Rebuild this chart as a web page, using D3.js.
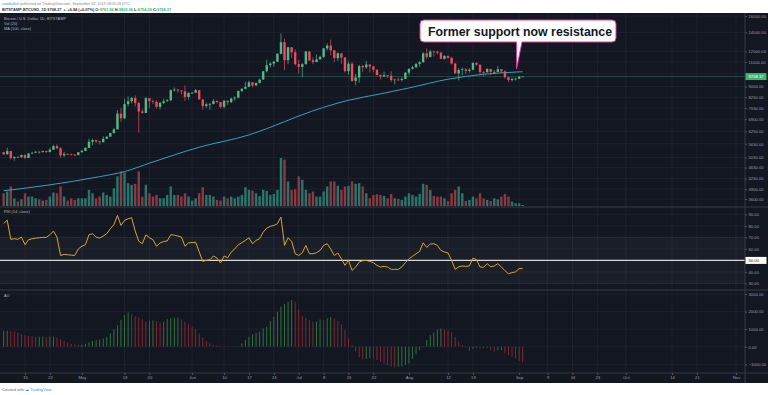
<!DOCTYPE html>
<html>
<head>
<meta charset="utf-8">
<script src="https://cdn.jsdelivr.net/npm/d3@7"></script>
<style>
  body { margin: 0; background: #ffffff; }
  svg { display: block; font-family: "Liberation Sans", Arial, sans-serif; }
</style>
</head>
<body>
<svg id="chart" width="768" height="395"></svg>
<script>
// daily candles, BITSTAMP BTCUSD, first candle 9 Apr 2019
const firstDay = "2019-04-09";

const opens = [
  5270, 5185, 5320, 5025, 5070, 5065, 5150, 5030, 5220, 5250,
  5290, 5275, 5320, 5280, 5380, 5540, 5440, 5140, 5200, 5185,
  5170, 5150, 5270, 5330, 5460, 5740, 5820, 5760, 5720, 5880,
  5980, 6160, 6350, 7220, 6950, 7800, 7990, 8200, 7880, 7350,
  7260, 8190, 7990, 7950, 7630, 7880, 7990, 8050, 8740, 8780,
  8720, 8660, 8270, 8550, 8560, 8740, 8110, 7680, 7790, 7810,
  8000, 7930, 7630, 8020, 7920, 8170, 8230, 8690, 8840, 8980,
  9320, 9080, 9270, 9530, 10200, 10720, 10860, 11020, 11760, 12930,
  11160, 12400, 11900, 10800, 10570, 10800, 11980, 11150, 10990, 11240,
  11470, 12290, 12570, 12100, 11350, 11800, 11400, 10200, 10850, 9430,
  9690, 10640, 10530, 10770, 10600, 10330, 9880, 9770, 9880, 9840,
  9490, 9530, 9500, 9580, 10080, 10400, 10530, 10820, 10970, 11800,
  11460, 11980, 11970, 11860, 11290, 11560, 11380, 10860, 10020, 10310,
  10360, 10220, 10320, 10920, 10760, 10130, 10120, 10400, 10140, 10140,
  10370, 10190, 9710, 9490, 9580, 9600, 9761.56
];
const highs = [
  5290, 5470, 5330, 5100, 5120, 5170, 5190, 5230, 5290, 5330,
  5330, 5340, 5330, 5470, 5600, 5620, 5500, 5290, 5220, 5210,
  5200, 5280, 5360, 5490, 5880, 5880, 5840, 5790, 6000, 6020,
  6180, 6430, 7440, 7560, 8150, 8300, 8280, 8380, 7950, 7480,
  8260, 8190, 8100, 8040, 7950, 8150, 8130, 8800, 8940, 8800,
  8720, 9080, 8580, 8620, 8820, 8740, 8110, 7900, 7880, 8130,
  8050, 7950, 8070, 8020, 8230, 8300, 8700, 8880, 9360, 9440,
  9330, 9300, 9590, 10220, 11200, 11000, 11100, 11800, 13880, 13300,
  12440, 12400, 12200, 11200, 10900, 12000, 12000, 11430, 11700, 11580,
  12330, 12800, 13200, 12100, 11900, 11800, 11450, 11050, 11000, 9970,
  10750, 10750, 11100, 10800, 10650, 10330, 9920, 10180, 9880, 10200,
  9600, 9700, 9720, 10120, 10450, 10650, 10920, 11080, 11900, 12300,
  12150, 12050, 12050, 11960, 11600, 11580, 11460, 10930, 10450, 10530,
  10480, 10470, 10950, 10950, 10760, 10230, 10430, 10400, 10300, 10650,
  10390, 10290, 9720, 9680, 9680, 9800, 9805.06
];
const lows = [
  5155, 5170, 4970, 4920, 5040, 5040, 4990, 5020, 5200, 5250,
  5200, 5260, 5230, 5260, 5370, 5400, 5040, 5070, 5150, 5130,
  5100, 5140, 5260, 5320, 5450, 5580, 5680, 5610, 5720, 5860,
  5970, 6140, 6350, 6750, 6900, 7650, 7850, 7650, 6180, 7220,
  7250, 7560, 7800, 7520, 7470, 7800, 7950, 7980, 8640, 8560,
  8440, 8000, 8100, 8480, 8540, 8100, 7460, 7570, 7460, 7780,
  7850, 7530, 7530, 7740, 7880, 8030, 8170, 8610, 8800, 8970,
  8950, 9060, 9230, 9530, 10100, 10500, 10600, 11010, 11700, 10300,
  10800, 11350, 10700, 10000, 9700, 10800, 11100, 10800, 10990, 11200,
  11360, 12100, 11600, 11000, 11100, 10850, 10100, 9900, 9350, 9100,
  9300, 10150, 10400, 10100, 10100, 9850, 9540, 9750, 9650, 9330,
  9150, 9420, 9380, 9580, 9870, 10350, 10500, 10570, 10970, 11250,
  11400, 11500, 11670, 11250, 11200, 11310, 10760, 10000, 9460, 9860,
  9990, 10080, 10270, 10650, 9860, 9780, 10070, 9900, 9950, 10140,
  10060, 9600, 9330, 9370, 9450, 9560, 9754.09
];
const closes = [
  5185, 5320, 5025, 5070, 5065, 5150, 5030, 5220, 5250, 5290,
  5275, 5320, 5280, 5380, 5540, 5440, 5140, 5200, 5185, 5170,
  5150, 5270, 5330, 5460, 5740, 5820, 5760, 5720, 5880, 5980,
  6160, 6350, 7220, 6950, 7800, 7990, 8200, 7880, 7350, 7260,
  8190, 7990, 7950, 7630, 7880, 7990, 8050, 8740, 8780, 8720,
  8660, 8270, 8550, 8560, 8740, 8110, 7680, 7790, 7810, 8000,
  7930, 7630, 8020, 7920, 8170, 8230, 8690, 8840, 8980, 9320,
  9080, 9270, 9530, 10200, 10720, 10860, 11020, 11760, 12930, 11160,
  12400, 11900, 10800, 10570, 10800, 11980, 11150, 10990, 11240, 11470,
  12290, 12570, 12100, 11350, 11800, 11400, 10200, 10850, 9430, 9690,
  10640, 10530, 10770, 10600, 10330, 9880, 9770, 9880, 9840, 9490,
  9530, 9500, 9580, 10080, 10400, 10530, 10820, 10970, 11800, 11460,
  11980, 11970, 11860, 11290, 11560, 11380, 10860, 10020, 10310, 10360,
  10220, 10320, 10920, 10760, 10130, 10120, 10400, 10140, 10140, 10370,
  10190, 9710, 9490, 9580, 9600, 9761.56, 9768.37
];
const volumes = [
  10100, 11500, 15500, 6100, 3500, 5300, 10100, 7500, 7500, 6100,
  5300, 4300, 4800, 7500, 10700, 10100, 15500, 7500, 4300, 6100,
  4800, 6100, 6100, 6100, 12800, 10100, 6100, 7500, 10700, 8800,
  7500, 14100, 23500, 27500, 26700, 18100, 16800, 17600, 27500, 7500,
  16800, 10100, 7500, 8800, 6100, 6100, 8800, 15500, 8800, 8800,
  7500, 10100, 7500, 4300, 6100, 10100, 14900, 8800, 8800, 7500,
  4800, 4300, 7500, 6100, 7500, 6100, 7500, 8800, 14900, 12800,
  12300, 10100, 7900, 12800, 12000, 8800, 9600, 12800, 38100, 36800,
  19500, 12800, 13300, 23500, 20800, 12800, 10100, 11500, 7500, 7500,
  11500, 15500, 19500, 19500, 16000, 12800, 15500, 16000, 19500, 17600,
  18100, 15500, 10100, 6100, 8800, 9300, 8800, 8000, 6100, 9600,
  6100, 5600, 4800, 7500, 10100, 8800, 7500, 9600, 17600, 16800,
  12800, 8000, 7500, 7500, 6100, 4000, 10100, 12800, 15500, 10100,
  4000, 4800, 7500, 6100, 10100, 6100, 4800, 4000, 6100, 5300,
  7500, 9600, 7500, 3500, 2100, 2100, 800
];
const rsiValues = [
  82, 85, 68.3, 68.9, 68.3, 70.3, 63.6, 68, 68.8, 69.4,
  69.7, 70, 70, 72.3, 75.5, 70.3, 54.3, 55.2, 54.9, 54.6,
  54.3, 60, 62.3, 63.6, 72.3, 73.2, 70.3, 69.4, 71.2, 73.2,
  77.5, 81, 89.1, 80.4, 84.8, 86.2, 87.1, 75.5, 66.7, 64.5,
  72.3, 69.7, 68, 62.3, 65.2, 66.4, 66.9, 72.3, 72, 71.2,
  70.3, 62.3, 65.2, 65.5, 65.8, 57.5, 49.1, 50, 50.6, 53.8,
  52, 47.7, 53.8, 52.3, 57.2, 60, 63.6, 65.4, 67.4, 69.7,
  64.5, 67.4, 68.8, 74.6, 78.1, 79.6, 80.4, 81.9, 87.7, 63,
  69.7, 66.5, 55.8, 54.3, 56.7, 63, 55.8, 55.8, 56.7, 58.7,
  63, 64.5, 60, 54.3, 56.4, 51.4, 45.7, 50, 41.3, 44.2,
  48.6, 49.7, 50, 49.1, 48, 45.7, 44.2, 44.8, 44.2, 42.2,
  42.2, 42.2, 44.3, 48, 51.4, 53.5, 55.8, 57.8, 65.3, 61.3,
  64.2, 64.5, 63, 58.7, 57.3, 56.4, 50, 42.2, 44.5, 45.1,
  44.8, 45.1, 52, 50.6, 44.3, 44, 47.2, 44.5, 45.1, 47.2,
  44.3, 41.1, 38.3, 39.4, 40, 42.9, 42.9
];
const aoValues = [
  909, 909, 890, 870, 795, 700, 663, 625, 580, 560,
  570, 575, 560, 570, 575, 511, 435, 322, 246, 170,
  132, 114, 125, 170, 246, 322, 379, 417, 473, 568,
  758, 985, 1231, 1515, 1800, 1951, 1837, 1742, 1667, 1553,
  1420, 1477, 1496, 1458, 1383, 1420, 1572, 1610, 1648, 1660,
  1553, 1420, 1288, 1136, 1004, 758, 530, 322, 189, 95,
  57, 38, 19, 8, -5, 5, 20, 189, 379, 568,
  700, 795, 852, 1042, 1136, 1458, 1705, 1989, 2273, 2424,
  2557, 2652, 2557, 2140, 1742, 1648, 1515, 1420, 1430, 1553,
  1515, 1610, 1686, 1610, 1458, 1269, 947, 473, 95, -284,
  -600, -720, -700, -650, -680, -760, -850, -960, -1050, -1136,
  -1193, -1150, -1130, -1042, -947, -700, -435, -189, 38, 379,
  663, 814, 985, 1042, 985, 909, 814, 568, 284, 95,
  -38, -246, -120, -60, -90, -70, -60, -190, -284, -200,
  -190, -379, -473, -568, -663, -814, -890
];

// MA(100) read at a few dates along the curve
const maDates = ["2019-04-09", "2019-04-22", "2019-05-06", "2019-05-13", "2019-05-20", "2019-06-03",
  "2019-06-17", "2019-06-27", "2019-07-01", "2019-07-15", "2019-07-24", "2019-08-01",
  "2019-08-12", "2019-08-22", "2019-09-02"];
const maValues = [3850, 4040, 4320, 4500, 4820, 5490, 6070, 6760, 7080, 8050, 8480, 8900, 9560, 9950, 10160];

const priceTicks = [16000, 14000, 12000, 11000, 10000, 9000, 8250, 7550, 6900, 6250, 5650, 5050, 4650, 4250, 3900, 3600];
const rsiTicks = [90, 80, 70, 60, 50, 40, 30];
const aoTicks = [3000, 2000, 1000, 0, -1000];
const timeTicks = ["2019-04-15", "2019-04-22", "2019-05-01", "2019-05-13", "2019-05-20", "2019-06-01",
  "2019-06-10", "2019-06-17", "2019-06-24", "2019-07-01", "2019-07-08", "2019-07-15", "2019-07-22",
  "2019-08-01", "2019-08-12", "2019-08-19", "2019-09-01", "2019-09-09", "2019-09-16", "2019-09-23",
  "2019-10-01", "2019-10-14", "2019-10-21", "2019-11-01"];
const timeLabels = ["15", "22", "May", "13", "20", "Jun", "10", "17", "24", "Jul", "8", "15", "22",
  "Aug", "12", "19", "Sep", "9", "16", "23", "Oct", "14", "21", "Nov"];

const lastPrice = 9768.37;

// ---- layout ----
const plotRight = 745;
const mainPane = {top: 13, bottom: 207};
const rsiPane = {top: 207, bottom: 290};
const aoPane = {top: 290, bottom: 373};
const chartBottom = 383;

const bg = "#131722";
const gridColor = "#212531";
const lineColor = "#363a45";
const textColor = "#9a9ea8";
const upColor = "#53b987";
const downColor = "#eb4d5c";

const parseDay = d3.utcParse("%Y-%m-%d");
const start = parseDay(firstDay);
const dates = d3.utcDay.range(start, d3.utcDay.offset(start, closes.length));

const candles = dates.map((d, i) => ({
    date: d, o: opens[i], h: highs[i], l: lows[i], c: closes[i], v: volumes[i]
}));

const x = d3.scaleUtc()
    .domain([parseDay("2019-04-15"), parseDay("2019-11-01")])
    .range([25, 736]);
const yPrice = d3.scaleLog().domain([16000, 3600]).range([16, 199]);
const yVol = d3.scaleLinear().domain([0, 38100]).range([206, 158]);
const yRsi = d3.scaleLinear().domain([30, 90]).range([283.4, 214.4]);
const yAo = d3.scaleLinear().domain([-1000, 3000]).range([364.3, 294]);

const svg = d3.select("#chart");

svg.append("rect").attr("width", 768).attr("height", 395).attr("fill", "#ffffff");
svg.append("rect")
    .attr("x", 0).attr("y", mainPane.top)
    .attr("width", 768).attr("height", chartBottom - mainPane.top)
    .attr("fill", bg);

// header lines
const head1 = svg.append("text").attr("x", 2).attr("y", 5).style("font-size", "3.7px");
head1.append("tspan").attr("fill", "#2196f3").text("coinbullish");
head1.append("tspan").attr("fill", "#888").text(" published on TradingView.com, September 02, 2019 08:05:09 UTC");

const head2 = svg.append("text").attr("x", 2).attr("y", 10.5)
    .style("font-size", "3.9px").style("font-weight", "bold").attr("fill", "#333");
head2.append("tspan").text("BITSTAMP:BTCUSD, 1D 9768.37 ");
head2.append("tspan").attr("fill", "#3cb371").text("\u25B2");
head2.append("tspan").text(" +6.84 (+0.07%) O:");
head2.append("tspan").attr("fill", "#3cb371").text("9761.56");
head2.append("tspan").text(" H:");
head2.append("tspan").attr("fill", "#3cb371").text("9805.06");
head2.append("tspan").text(" L:");
head2.append("tspan").attr("fill", "#3cb371").text("9754.09");
head2.append("tspan").text(" C:");
head2.append("tspan").attr("fill", "#3cb371").text("9768.37");

// clip paths for panes
const defs = svg.append("defs");
[["clipMain", mainPane], ["clipRsi", rsiPane], ["clipAo", aoPane]].forEach(([id, p]) => {
    defs.append("clipPath").attr("id", id)
        .append("rect").attr("x", 0).attr("y", p.top)
        .attr("width", plotRight).attr("height", p.bottom - p.top);
});

// vertical grid across all panes
const tickDates = timeTicks.map(parseDay);
svg.append("g").selectAll("line")
    .data(tickDates)
    .enter().append("line")
    .attr("x1", d => x(d)).attr("x2", d => x(d))
    .attr("y1", mainPane.top).attr("y2", aoPane.bottom)
    .attr("stroke", gridColor).attr("stroke-width", 0.8);

const hGrid = (ticks, scale, pane) => {
    svg.append("g").selectAll("line")
        .data(ticks)
        .enter().append("line")
        .attr("x1", 0).attr("x2", plotRight)
        .attr("y1", d => scale(d)).attr("y2", d => scale(d))
        .attr("stroke", gridColor).attr("stroke-width", 0.8)
        .attr("clip-path", `url(#${pane})`);
};
hGrid(priceTicks, yPrice, "clipMain");
hGrid(rsiTicks, yRsi, "clipRsi");
hGrid(aoTicks, yAo, "clipAo");

// ---- main pane ----
const main = svg.append("g").attr("clip-path", "url(#clipMain)");

main.append("g").selectAll("rect")
    .data(candles)
    .enter().append("rect")
    .attr("x", d => x(d.date) - 1.2)
    .attr("width", 2.4)
    .attr("y", d => yVol(d.v))
    .attr("height", d => yVol(0) - yVol(d.v))
    .attr("fill", d => d.c >= d.o ? "#2a766c" : "#8a3a42");

// last price line
main.append("line")
    .attr("x1", 0).attr("x2", plotRight)
    .attr("y1", yPrice(lastPrice)).attr("y2", yPrice(lastPrice))
    .attr("stroke", "#2a5a52").attr("stroke-width", 0.7);

const maLine = d3.line()
    .x((d, i) => x(parseDay(maDates[i])))
    .y(d => yPrice(d))
    .curve(d3.curveMonotoneX);
main.append("path")
    .datum(maValues)
    .attr("d", maLine)
    .attr("fill", "none")
    .attr("stroke", "#36a0bf")
    .attr("stroke-width", 1);

const candle = main.append("g").selectAll("g")
    .data(candles)
    .enter().append("g");
candle.append("line")
    .attr("x1", d => x(d.date)).attr("x2", d => x(d.date))
    .attr("y1", d => yPrice(d.h)).attr("y2", d => yPrice(d.l))
    .attr("stroke", d => d.c >= d.o ? upColor : downColor)
    .attr("stroke-width", 0.7);
candle.append("rect")
    .attr("x", d => x(d.date) - 1.2)
    .attr("width", 2.4)
    .attr("y", d => yPrice(Math.max(d.o, d.c)))
    .attr("height", d => Math.max(0.7, Math.abs(yPrice(d.o) - yPrice(d.c))))
    .attr("fill", d => d.c >= d.o ? upColor : downColor);

// pane legends
const legend = (lines, y0) => {
    lines.forEach((t, i) => {
        svg.append("text").attr("x", 4).attr("y", y0 + i * 5)
            .attr("fill", "#b2b5be").style("font-size", "3.9px").text(t);
    });
};
legend(["Bitcoin / U.S. Dollar, 1D, BITSTAMP", "Vol (20)", "MA (100, close)"], 20);
legend(["RSI (14, close)"], 213);
legend(["AO"], 297);

// ---- RSI pane ----
const rsi = svg.append("g").attr("clip-path", "url(#clipRsi)");
rsi.append("rect")
    .attr("x", 0).attr("width", plotRight)
    .attr("y", yRsi(70)).attr("height", yRsi(30) - yRsi(70))
    .attr("fill", "#ffffff").attr("fill-opacity", 0.03);
rsi.selectAll("line.band")
    .data([70, 30])
    .enter().append("line")
    .attr("class", "band")
    .attr("x1", 0).attr("x2", plotRight)
    .attr("y1", d => yRsi(d)).attr("y2", d => yRsi(d))
    .attr("stroke", "#3a3e4a").attr("stroke-width", 0.6)
    .attr("stroke-dasharray", "1.5,1.5");
rsi.append("line")
    .attr("x1", 0).attr("x2", plotRight)
    .attr("y1", yRsi(50)).attr("y2", yRsi(50))
    .attr("stroke", "#d8d8d8").attr("stroke-width", 1.1);

const rsiLine = d3.line()
    .x((d, i) => x(dates[i]))
    .y(d => yRsi(d));
rsi.append("path")
    .datum(rsiValues)
    .attr("d", rsiLine)
    .attr("fill", "none")
    .attr("stroke", "#dca42a")
    .attr("stroke-width", 1);

// ---- AO pane ----
const ao = svg.append("g").attr("clip-path", "url(#clipAo)");
ao.append("g").selectAll("rect")
    .data(aoValues)
    .enter().append("rect")
    .attr("x", (d, i) => x(dates[i]) - 0.45)
    .attr("width", 0.9)
    .attr("y", d => yAo(Math.max(0, d)))
    .attr("height", d => Math.abs(yAo(d) - yAo(0)))
    .attr("fill", (d, i) => (i === 0 || d >= aoValues[i - 1]) ? "#2f7d3c" : "#8f2830");

// pane separators and price scale border
[rsiPane.top, aoPane.top, aoPane.bottom].forEach(yy => {
    svg.append("line")
        .attr("x1", 0).attr("x2", 768)
        .attr("y1", yy).attr("y2", yy)
        .attr("stroke", lineColor).attr("stroke-width", 1);
});
svg.append("line")
    .attr("x1", plotRight).attr("x2", plotRight)
    .attr("y1", mainPane.top).attr("y2", chartBottom)
    .attr("stroke", lineColor).attr("stroke-width", 1);

// ---- axes ----
const fmt = d3.format(".2f");
const styleAxis = g => {
    g.select(".domain").remove();
    g.selectAll(".tick line").attr("stroke", "#50535e");
    g.selectAll(".tick text")
        .attr("fill", textColor)
        .style("font-size", "4.2px")
        .style("font-family", "'Liberation Sans', Arial, sans-serif");
};

svg.append("g")
    .attr("transform", `translate(${plotRight},0)`)
    .call(d3.axisRight(yPrice).tickValues(priceTicks.filter(d => d !== 10000))
        .tickFormat(fmt).tickSize(2).tickPadding(1.5))
    .call(styleAxis);
svg.append("g")
    .attr("transform", `translate(${plotRight},0)`)
    .call(d3.axisRight(yRsi).tickValues(rsiTicks.filter(d => d !== 50))
        .tickFormat(fmt).tickSize(2).tickPadding(1.5))
    .call(styleAxis);
svg.append("g")
    .attr("transform", `translate(${plotRight},0)`)
    .call(d3.axisRight(yAo).tickValues(aoTicks)
        .tickFormat(fmt).tickSize(2).tickPadding(1.5))
    .call(styleAxis);

svg.append("g")
    .attr("transform", `translate(0,${aoPane.bottom})`)
    .call(d3.axisBottom(x).tickValues(tickDates)
        .tickFormat((d, i) => timeLabels[i]).tickSize(2).tickPadding(1.5))
    .call(styleAxis);

// price badges on the scale
const badge = (yy, label, fill, color) => {
    svg.append("rect")
        .attr("x", plotRight + 0.5).attr("y", yy - 3.5)
        .attr("width", 21).attr("height", 7)
        .attr("fill", fill);
    svg.append("text")
        .attr("x", plotRight + 3.5).attr("y", yy + 1.5)
        .attr("fill", color).style("font-size", "4.2px")
        .text(label);
};
badge(yPrice(lastPrice), fmt(lastPrice), "#3cb371", "#ffffff");
badge(yRsi(50), fmt(50), "#ffffff", "#131722");

// ---- callout ----
const callout = svg.append("g");
callout.append("path")
    .attr("d", "M424,20 H612 Q616,20 616,24 V38 Q616,42 612,42 H522 L516.5,69 L516.5,42 H424 Q420,42 420,38 V24 Q420,20 424,20 Z")
    .attr("fill", "#ffffff")
    .attr("stroke", "#d6409f")
    .attr("stroke-width", 1);
callout.append("text")
    .attr("x", 428).attr("y", 36)
    .attr("fill", "#131722")
    .attr("textLength", 184).attr("lengthAdjust", "spacingAndGlyphs")
    .style("font-size", "13px").style("font-weight", "bold")
    .text("Former support now resistance");

// footer
const foot = svg.append("text").attr("x", 2).attr("y", 391).style("font-size", "3.9px");
foot.append("tspan").attr("fill", "#666").text("Created with ");
foot.append("tspan").attr("fill", "#2196f3").text("\u2601 TradingView");
</script>
</body>
</html>
